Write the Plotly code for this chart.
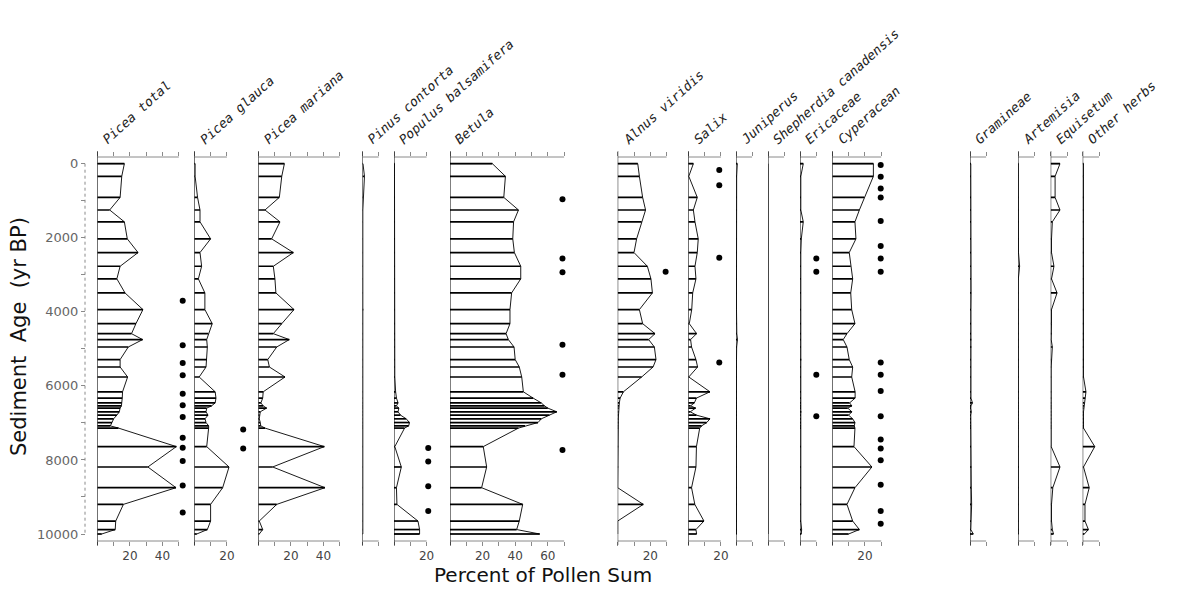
import plotly.graph_objects as go

# ---------------- data ----------------
ages = [0, 340, 910, 1250, 1570, 2030, 2400, 2770, 3110, 3490, 3940, 4320,
        4590, 4750, 4950, 5290, 5490, 5760, 6160, 6330, 6460, 6540, 6600, 6700,
        6790, 6890, 6990, 7080, 7140, 7640, 8190, 8750, 9200, 9650, 9880, 10000]

picea_total = [16.6, 15, 14, 7.6, 16.6, 18.4, 25, 14, 12, 17, 28, 23.7,
               21, 27.8, 19, 14, 14, 18.6, 15.5, 15.3, 15, 14.8, 14, 13.5,
               12, 10, 9, 8, 13, 48.5, 31, 48.3, 16, 11.3, 11, 2.7]
picea_glauca = [0.5, 0.5, 2, 3.5, 3.5, 10, 3.5, 4.5, 2.5, 6.5, 6.5, 11,
                8.6, 7.6, 8, 7.6, 7.2, 3, 12.8, 13.3, 12.8, 10.6, 7.6, 7.2,
                8.4, 6.6, 7.2, 8.8, 8.8, 7.6, 21.3, 17.4, 10, 10, 8, 1.5]
picea_mariana = [16, 14.4, 12.9, 4.1, 13.3, 8.2, 21.5, 9.2, 10.2, 10.8, 21.9, 14.4,
                 9.2, 19, 11.3, 5.8, 6.8, 16.4, 3, 2.7, 1.6, 3, 5.1, 1.2,
                 0.8, 0.6, 1.2, 1.5, 4.1, 40.5, 8.8, 40.9, 11.3, 0.6, 2.7, 0.6]
pinus_contorta = [0.3, 1.2, 0.3, 0.2, 0.2, 0.2, 0.2, 0.2, 0.2, 0.2, 0.5, 0.2,
                  0.2, 0.2, 0.2, 0.2, 0.2, 0.2, 0.2, 0.2, 0.2, 0.2, 0.2, 0.2,
                  0.2, 0.2, 0.2, 0.2, 0.2, 0.2, 0.2, 0.2, 0.2, 0.2, 0.2, 0.2]
populus = [0.3, 0.3, 0.3, 0.3, 0.3, 0.5, 0.3, 0.3, 0.3, 0.3, 0.3, 0.3,
           0.3, 0.3, 0.3, 0.3, 0.3, 0.5, 1, 1.5, 2.5, 1.5, 3, 2.5,
           4, 7.5, 9.5, 9, 6.5, 0.5, 4.5, 1.5, 1.8, 14.7, 15.7, 15.7]
betula = [26, 34, 33, 42, 39, 38.5, 39.5, 43.4, 43.4, 37.8, 36.8, 36.8,
          34.4, 35.8, 39.3, 40, 42.5, 44, 45, 51, 56, 58, 60, 65.5,
          61, 56, 54, 46, 42, 20.4, 22.5, 19.4, 44.6, 42.5, 40.9, 55]
alnus = [12.3, 13.3, 15.3, 17.1, 14.7, 11.6, 10, 18.2, 20.4, 21.3, 13.3, 15.3,
         22.9, 19, 22.5, 23.5, 21.7, 14.7, 3.5, 1.5, 1, 0.8, 0.6, 0.5,
         0.5, 0.4, 0.4, 0.3, 0.3, 0.3, 0.3, 0, 15.7, 0, 0, 0]
salix = [3.1, 0.3, 5.5, 3.1, 4.1, 6.1, 5.5, 4.1, 4.7, 2.7, 2.1, 0.6,
         5.1, 1.4, 2, 4.7, 5.7, 0.3, 13.3, 5, 3.7, 1.4, 4.5, 1.2,
         5, 13.3, 11.3, 8.2, 7, 5, 4.7, 2, 4, 9.6, 4.7, 5.1]
juniperus = [0.8, 0.4, 0.3, 0.3, 0.3, 0.3, 0.3, 0.3, 0.3, 0.3, 0.3, 0.3,
             0.5, 0.9, 0.4, 0.3, 0.3, 0.3, 0.3, 0.3, 0.3, 0.3, 0.3, 0.3,
             0.5, 0.3, 0.3, 0.3, 0.3, 0.3, 0.3, 0.3, 0.3, 0.3, 0.3, 0.3]
shepherdia = [0, 0, 0, 0, 0, 0, 0, 0, 0, 0, 0, 0,
              0, 0, 0, 0, 0, 0, 0, 0, 0, 0, 0, 0,
              0, 0, 0, 0, 0, 0, 0, 0, 0, 0, 0, 0]
ericaceae = [2, 0.5, 0.5, 0.5, 2, 0.8, 0.5, 0.5, 0.5, 0.5, 0.5, 0.5,
             0.5, 0.5, 0.5, 0.8, 0.5, 0.5, 0.5, 0.5, 0.5, 0.5, 0.5, 0.8,
             0.5, 0.5, 0.5, 0.5, 0.5, 0.5, 0.5, 0.5, 0.5, 0.5, 1, 0.8]
cyperaceae = [25.2, 25.2, 19.6, 16.6, 13.9, 14.5, 10.4, 11.3, 12.5, 11.3, 11.9, 13.9,
              9, 6.7, 9, 10.4, 12.5, 11.9, 14, 14, 10.6, 12, 9.5, 12,
              10, 12.5, 13.9, 13.5, 13.9, 13.3, 24.3, 13.9, 9, 12.5, 16.6, 10]
gramineae = [0.5, 0.5, 0.6, 0.6, 0.6, 0.6, 0.6, 0.6, 0.6, 0.7, 0.6, 0.6,
             0.6, 0.8, 0.8, 0.5, 0.5, 0.5, 0.5, 0.6, 1.5, 0.6, 0.5, 0.8,
             0.5, 0.5, 0.5, 0.5, 0.5, 0.6, 0.8, 0.8, 1, 0.6, 0.5, 2]
artemisia = [0.2, 0.2, 0.2, 0.2, 0.2, 0.3, 0.3, 1, 0.2, 0.2, 0.2, 0.2,
             0.2, 0.2, 0.2, 0.3, 0.2, 0.3, 0.3, 0.2, 0.2, 0.2, 0.2, 0.2,
             0.2, 0.2, 0.2, 0.2, 0.2, 0.2, 0.5, 0.2, 0.2, 0.2, 0.2, 0.2]
equisetum = [5.7, 2.7, 2.7, 5.7, 1, 0.5, 0.5, 2, 0.5, 3.9, 0.5, 0.5,
             0.5, 0.3, 1, 0.3, 0.3, 0.3, 0.3, 0.3, 0.3, 0.3, 0.3, 0.3,
             0.3, 0.3, 0.3, 0.3, 0.3, 0.3, 5.7, 1.3, 0.5, 0.5, 1, 1.7]
other_herbs = [0.5, 0.5, 0.5, 0.5, 0.5, 0.5, 0.5, 0.5, 0.5, 0.5, 0.5, 0.5,
               0.5, 0.5, 0.5, 0.5, 0.5, 0.5, 2, 1.5, 1, 0.8, 0.5, 0.5,
               0.5, 0.5, 0.5, 0.5, 0.5, 7.4, 0.5, 4, 1.4, 1.4, 3.5, 1]

taxa = ["Picea total", "Picea glauca", "Picea mariana", "Pinus contorta",
        "Populus balsamifera", "Betula", "Alnus viridis", "Salix", "Juniperus",
        "Shepherdia canadensis", "Ericaceae", "Cyperacean", "Gramineae",
        "Artemisia", "Equisetum", "Other herbs"]
series = [picea_total, picea_glauca, picea_mariana, pinus_contorta, populus,
          betula, alnus, salix, juniperus, shepherdia, ericaceae, cyperaceae,
          gramineae, artemisia, equisetum, other_herbs]
axis_max = [50, 20, 50, 10, 20, 70, 30, 20, 10, 10, 10, 30, 10, 10, 10, 10]
labelled_ticks = [[20, 40], [20], [20, 40], [], [20], [20, 40, 60], [20], [20],
                  [], [], [], [20], [], [], [], []]

# marker dots: (panel index, x value in %, ages)
dot_panels = [0, 1, 4, 5, 6, 7, 10, 11]
dot_x = [52.4, 30, 21, 69, 29.4, 19, 10, 29.7]
dot_ages = [
    [3700, 4900, 5380, 5710, 6210, 6520, 6840, 7400, 7670, 8030, 8690, 9420],
    [7180, 7690],
    [7680, 8040, 8710, 9380],
    [960, 2560, 2930, 4890, 5700, 7730],
    [2920],
    [170, 580, 2540, 5370],
    [2560, 2920, 5700, 6820],
    [35, 350, 670, 910, 1550, 2220, 2560, 2920, 5370, 5700, 6140, 6820,
     7450, 7690, 8010, 8670, 9380, 9720],
]

age_ticks = [0, 1000, 2000, 3000, 4000, 5000, 6000, 7000, 8000, 9000, 10000]
age_tick_text = ["0", "", "2000", "", "4000", "", "6000", "", "8000", "", "10000"]

# ---------------- layout geometry ----------------
W, H = 1177, 597
BODY = 8                      # default page margin of the html body
ML, MR, MT, MB = 85, 77, 157, 56   # wanted plot-area position in the window
PW, PH = W - ML - MR, H - MT - MB
PX_PER_PCT = 1.63
panel_left_px = [97.3, 194.3, 258.3, 362.5, 394, 450, 617.7, 688.3, 736, 768,
                 800, 832.3, 970, 1018, 1050.7, 1082.7]
AGE0_PX, PX_PER_YR = 163.7, 370.3 / 10000
y_top = (MT - AGE0_PX) / PX_PER_YR
y_bot = (MT + PH - AGE0_PX) / PX_PER_YR

AXIS_GREY = "#8a8a8a"
fig = go.Figure()
layout_axes = {}
shapes = []
annotations = []

def xname(i):
    return "x" if i == 0 else f"x{i+1}"

def xlayout(i):
    return "xaxis" if i == 0 else f"xaxis{i+1}"

# each panel's visible extent (axis range extended where the dots sit further right)
ext_max = list(axis_max)
for p, dx in zip(dot_panels, dot_x):
    ext_max[p] = max(ext_max[p], dx + 3)

for i, (name, vals) in enumerate(zip(taxa, series)):
    xa = xname(i)
    fig.add_trace(go.Scatter(
        x=[0] + vals + [0], y=[ages[0]] + ages + [ages[-1]],
        mode="lines", line=dict(color="black", width=0.9), cliponaxis=False,
        xaxis=xa, yaxis="y", showlegend=False, hoverinfo="skip"))
    hx, hy = [], []
    for a, v in zip(ages, vals):
        hx += [0, v, None]
        hy += [a, a, None]
    fig.add_trace(go.Scatter(
        x=hx, y=hy, mode="lines", line=dict(color="black", width=1.7),
        cliponaxis=False,
        xaxis=xa, yaxis="y", showlegend=False, hoverinfo="skip"))

    left = panel_left_px[i]
    right = left + ext_max[i] * PX_PER_PCT
    tv = list(range(0, axis_max[i] + 1, 10))
    tt = [str(t) if t in labelled_ticks[i] else "" for t in tv]
    layout_axes[xlayout(i)] = dict(
        domain=[(left - ML) / PW, min(1.0, (right - ML) / PW)],
        range=[0, ext_max[i]], anchor="y", automargin=False,
        showline=False, mirror="ticks",
        ticks="outside", ticklen=4, tickwidth=1, tickcolor=AXIS_GREY,
        tickvals=tv, ticktext=tt,
        tickfont=dict(family="DejaVu Sans", size=12, color="#444"),
        showgrid=False, zeroline=False, fixedrange=True)
    # bottom and top axis lines, limited to the scale of the taxon
    for yy in (0, 1):
        shapes.append(dict(type="line", xref=xa, yref="paper", x0=0,
                           x1=axis_max[i], y0=yy, y1=yy,
                           line=dict(color=AXIS_GREY, width=1)))
    shapes.append(dict(type="line", xref=xa, yref="paper", x0=0, x1=0,
                       y0=-4 / PH, y1=1 + 6 / PH,
                       line=dict(color="black", width=1)))
    sx, sy = left + 9.5, 147
    annotations.append(dict(
        text=name, xref="paper", yref="paper",
        x=(sx - 10 - ML) / PW, y=(MT + PH - (sy + 3)) / PH,
        xanchor="left", yanchor="bottom", textangle=-42, showarrow=False,
        font=dict(family="DejaVu Sans Mono", size=13, color="#222",
                  style="italic")))

for p, dx, da in zip(dot_panels, dot_x, dot_ages):
    fig.add_trace(go.Scatter(
        x=[dx] * len(da), y=da, mode="markers",
        marker=dict(color="black", size=6), cliponaxis=False,
        xaxis=xname(p), yaxis="y", showlegend=False, hoverinfo="skip"))

shapes.append(dict(type="line", xref="paper", yref="y", x0=0, x1=0,
                   y0=0, y1=10000,
                   line=dict(color=AXIS_GREY, width=1, dash="dot")))

annotations.append(dict(
    text="Sediment  Age  (yr BP)", xref="paper", yref="paper",
    x=(19 - ML) / PW, y=(MT + PH - 337) / PH, xanchor="center", yanchor="middle",
    textangle=-90, showarrow=False,
    font=dict(family="DejaVu Sans", size=21, color="#111")))
annotations.append(dict(
    text="Percent of Pollen Sum", xref="paper", yref="paper",
    x=(543 - ML) / PW, y=(MT + PH - 575) / PH, xanchor="center", yanchor="middle",
    showarrow=False,
    font=dict(family="DejaVu Sans", size=20, color="#111")))

fig.update_layout(
    width=W, height=H,
    margin=dict(l=ML - BODY, r=MR + BODY, t=MT - BODY, b=MB + BODY),
    paper_bgcolor="white", plot_bgcolor="white",
    showlegend=False,
    yaxis=dict(range=[y_bot, y_top], domain=[0, 1], anchor="free", position=0,
               automargin=False,
               showline=False, ticks="outside", ticklen=4, tickwidth=1,
               tickcolor=AXIS_GREY, tickvals=age_ticks, ticktext=age_tick_text,
               tickfont=dict(family="DejaVu Sans", size=13, color="#666"),
               showgrid=False, zeroline=False, fixedrange=True),
    shapes=shapes, annotations=annotations,
    **layout_axes)

fig.write_html("out.html")
